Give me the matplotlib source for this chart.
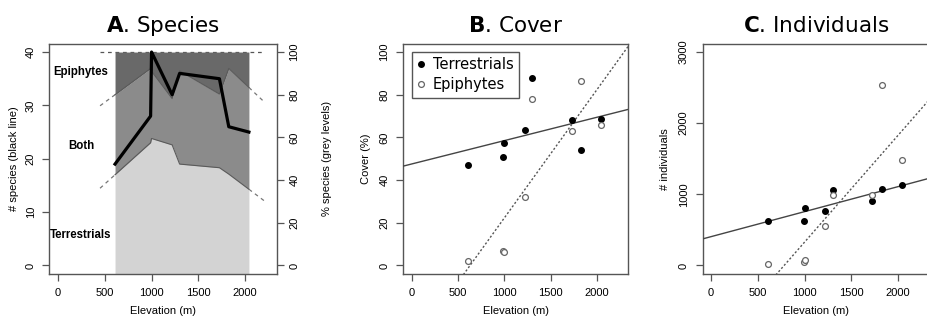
import matplotlib
matplotlib.use("Agg")
import matplotlib.pyplot as plt
import numpy as np

# ---------------- data ----------------
elevation = [610, 990, 1000, 1220, 1300, 1725, 1825, 2040]
species_total = [19, 28, 40, 32, 36, 35, 26, 25]
pct_terrestrial = [42.5, 57.5, 59.5, 56.5, 47.5, 45.8, 42.8, 35.7]   # cumulative % (terrestrials only)
pct_terr_both = [80.0, 92.3, 91.0, 78.2, 91.2, 80.3, 92.3, 83.4]   # cumulative % (terrestrials + both)
cover_terr = [47.2, 51.0, 57.2, 63.5, 87.9, 68.2, 54.1, 68.5]
cover_epi = [2.0, 6.7, 6.5, 32.3, 77.9, 63.2, 86.5, 66.0]
indiv_terr = [625, 625, 813, 766, 1067, 900, 1078, 1132]
indiv_epi = [14, 52, 75, 560, 987, 988, 2541, 1480]
xticks = [0, 500, 1000, 1500, 2000]

W, H = 928, 321
fig = plt.figure(figsize=(W / 100, H / 100), dpi=100)

TICKFONT = dict(family="Liberation Sans", size=8)
LABFONT = dict(family="Liberation Sans", size=8)
FRAME = "#555555"
XLIM = (-90, 2340)


def px_axes(l, r, t, b):
    return fig.add_axes([l / W, 1 - b / H, (r - l) / W, (b - t) / H])


def fix_ticklabels(ax, side_ha=None):
    for lab in ax.get_xticklabels() + ax.get_yticklabels():
        lab.set_fontfamily(TICKFONT["family"])
        lab.set_fontsize(TICKFONT["size"])
    for lab in ax.get_yticklabels():
        lab.set_va("center")
        if side_ha:
            lab.set_ha(side_ha)


def style(ax, ylim, yticks, title_b, title_r):
    ax.set_xlim(*XLIM)
    ax.set_ylim(*ylim)
    ax.set_xticks(xticks)
    ax.set_yticks(yticks)
    for s in ax.spines.values():
        s.set_color(FRAME)
        s.set_linewidth(1.0)
    ax.tick_params(direction="out", length=5, width=0.9, color=FRAME, pad=5)
    ax.tick_params(axis="y", labelrotation=90, pad=5)
    fix_ticklabels(ax)
    ax.set_xlabel("Elevation (m)", fontdict=LABFONT, labelpad=6)
    ax.set_title(r"$\mathbf{" + title_b + "}$. " + title_r, fontsize=15.5,
                 family="DejaVu Sans", pad=8)


# ---------------- Panel A ----------------
axp = px_axes(49.5, 277, 43.5, 274)          # percent axis (polygons), ticks on right
style(axp, (-4, 104), [0, 20, 40, 60, 80, 100], "A", "Species")
axs = axp.twinx()                              # species axis, ticks on left
axp.yaxis.tick_right()
axp.yaxis.set_label_position("right")
axs.yaxis.tick_left()
axs.yaxis.set_label_position("left")

x = np.array(elevation, dtype=float)
tb = np.array(pct_terrestrial)
bb = np.array(pct_terr_both)

# dashed extensions of the boundaries (drawn underneath the polygons)
xl, xr = 450, 2200
for b in (tb, bb):
    yl = b[0] + (b[1] - b[0]) / (x[1] - x[0]) * (xl - x[0])
    yr = b[-1] + (b[-1] - b[-2]) / (x[-1] - x[-2]) * (xr - x[-1])
    axp.plot([xl, x[0]], [yl, b[0]], ls=(0, (3, 3)), color="#777777", lw=0.9, zorder=1)
    axp.plot([x[-1], xr], [b[-1], yr], ls=(0, (3, 3)), color="#777777", lw=0.9, zorder=1)
axp.plot([xl, xr], [100, 100], ls=(0, (3, 3)), color="#555555", lw=0.9, zorder=1)

axp.fill_between(x, -10, tb, color="#d3d3d3", lw=0, zorder=2)
axp.fill_between(x, tb, bb, color="#8b8b8b", lw=0, zorder=2)
axp.fill_between(x, bb, 100, color="#696969", lw=0, zorder=2)
axp.plot(x, tb, color="#5a5a5a", lw=0.8, zorder=3)
axp.plot(x, bb, color="#5a5a5a", lw=0.8, zorder=3)
axp.tick_params(axis="y", direction="out", length=5, width=0.9, color=FRAME, pad=4,
                labelrotation=90)
fix_ticklabels(axp)
axp.set_ylabel("% species (grey levels)", fontdict=LABFONT, labelpad=16)

axs.set_ylim(-1.6, 41.6)
axs.set_yticks([0, 10, 20, 30, 40])
axs.tick_params(direction="out", length=5, width=0.9, color=FRAME, pad=5, labelrotation=90)
fix_ticklabels(axs)
for s in axs.spines.values():
    s.set_visible(False)
axs.plot(elevation, species_total, color="black", lw=2.3, zorder=5)
axs.set_ylabel("# species (black line)", fontdict=LABFONT, labelpad=5)
for name, yv in (("Epiphytes", 36.3), ("Both", 22.4), ("Terrestrials", 5.7)):
    axs.text(246, yv, name, ha="center", va="center", family="Liberation Sans",
             fontweight="bold", fontsize=8.3, zorder=6)


def scatter_panel(ax, yt, ye):
    ax.plot(elevation, yt, "o", ms=4, mfc="black", mec="black", zorder=4,
            label="Terrestrials")
    ax.plot(elevation, ye, "o", ms=4.2, mfc="white", mec="#666666", mew=0.9,
            zorder=4, label="Epiphytes")
    xs = np.array(XLIM)
    st = np.polyfit(elevation, yt, 1)
    se = np.polyfit(elevation, ye, 1)
    ax.plot(xs, np.polyval(st, xs), color="#444444", lw=1.0, zorder=3)
    ax.plot(xs, np.polyval(se, xs), color="#555555", lw=1.0, ls=(0, (1.5, 1.5)), zorder=3)


# ---------------- Panel B ----------------
axb = px_axes(403.3, 628.5, 43.5, 274)
style(axb, (-4, 104), [0, 20, 40, 60, 80, 100], "B", "Cover")
scatter_panel(axb, cover_terr, cover_epi)
axb.set_ylabel("Cover (%)", fontdict=LABFONT, labelpad=6)
leg = axb.legend(loc="upper left", bbox_to_anchor=(0.037, 0.962), borderaxespad=0,
                 prop=dict(family="DejaVu Sans", size=10.5), handlelength=0.6,
                 handletextpad=0.5, labelspacing=0.35, borderpad=0.35,
                 fancybox=False, framealpha=1, edgecolor=FRAME)
leg.get_frame().set_linewidth(1.0)

# ---------------- Panel C ----------------
axc = px_axes(702.5, 930, 43.5, 274)
style(axc, (-120, 3120), [0, 1000, 2000, 3000], "C", "Individuals")
scatter_panel(axc, indiv_terr, indiv_epi)
axc.set_ylabel("# individuals", fontdict=LABFONT, labelpad=6)

fig.savefig("out.png", dpi=100)
